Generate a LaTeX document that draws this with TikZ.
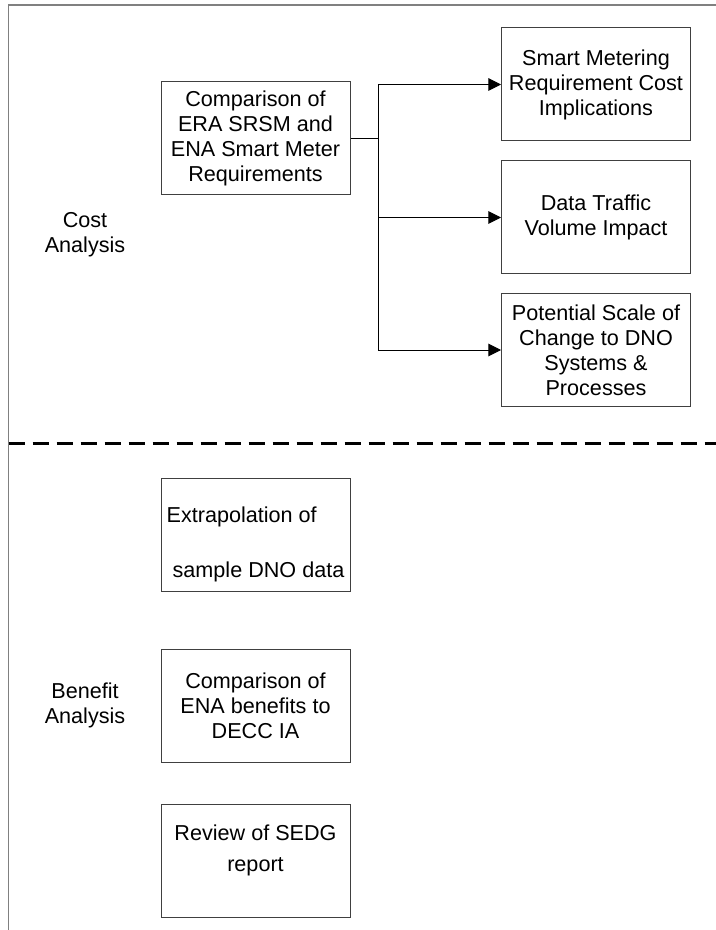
\documentclass[tikz,border=0pt]{standalone}
\usepackage{fontspec}
\setmainfont{Liberation Sans}
\usetikzlibrary{arrows.meta}
\begin{document}
\begin{tikzpicture}[x=0.75pt,y=-0.75pt,
		font=\fontsize{16.2}{18.8}\selectfont,
		box/.style={draw=black!75, line width=0.75pt, inner sep=0pt, minimum width=141.75pt, minimum height=84.75pt, align=center},
		arr/.style={-{Triangle[length=9.5pt,width=9.5pt]}, line width=0.75pt}]
			\useasboundingbox (0,0) rectangle (716,930);
			\draw[gray, line width=1pt] (8.5,930) |- (716,5);
			\draw[line width=2.25pt, dash pattern=on 12pt off 6pt] (8.5,443) -- (716,443);
			%--
			\node[align=center] (costlbl) at (85,235) {Cost\\Analysis};
			\node[align=center] (benlbl) at (85,705) {Benefit\\Analysis};
			%--
			\node[box] (cmp) at (255.5,138.5) {Comparison of\\ERA SRSM and\\ENA Smart Meter\\Requirements};
			\node[box] (smart) at (596,84.5) {Smart Metering\\Requirement Cost\\Implications};
			\node[box] (traffic) at (596,217.5) {Data Traffic\\Volume Impact};
			\node[box] (scale) at (596,350) {Potential Scale of\\Change to DNO\\Systems \&\\Processes};
			%--
			\node[box, align=left] (extrap) at (255.5,535) {\rule{0pt}{26pt}Extrapolation of\\[23pt]~sample DNO data};
			\node[box] (enacmp) at (255.5,706) {Comparison of\\ENA benefits to\\DECC IA};
			\node[box] (sedg) at (255.5,861) {Review of SEDG~\\[4pt]report\rule[-19pt]{0pt}{19pt}};
			%--
			\coordinate (split) at ([xshift=21pt]cmp.east);
			\draw[line width=1.1pt] (cmp.east) -- (split);
			\draw[arr] (split) |- (smart.west);
			\draw[arr] (split) |- (traffic.west);
			\draw[arr] (split) |- (scale.west);
		\end{tikzpicture}
\end{document}
